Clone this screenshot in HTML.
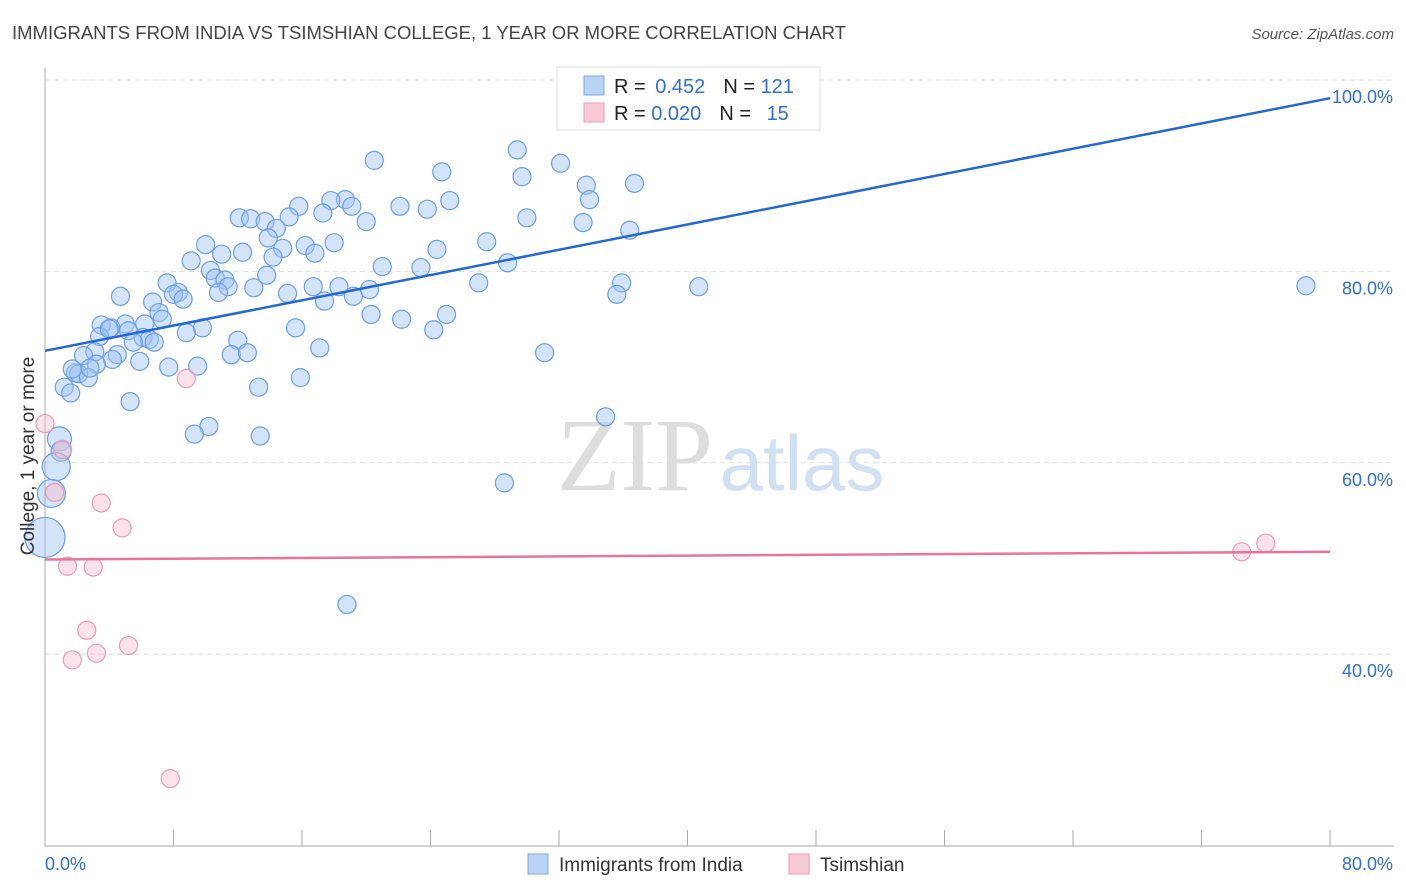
<!DOCTYPE html>
<html><head><meta charset="utf-8">
<style>
body{margin:0;background:#fff;font-family:"Liberation Sans",sans-serif;}
svg{display:block}
</style></head>
<body>
<svg id="chart" width="1406" height="892" xmlns="http://www.w3.org/2000/svg">
<text x="12" y="39" font-size="18.5" fill="#444" textLength="834" lengthAdjust="spacingAndGlyphs">IMMIGRANTS FROM INDIA VS TSIMSHIAN COLLEGE, 1 YEAR OR MORE CORRELATION CHART</text>
<text x="1394" y="39" font-size="15" fill="#555" font-style="italic" text-anchor="end">Source: ZipAtlas.com</text>
<g id="grid"></g>
<g>
<text x="635" y="490" font-size="104" fill="#ddd" font-family="Liberation Serif,serif" text-anchor="middle">ZIP</text>
<text x="802" y="490" font-size="78" fill="#cfe0f3" text-anchor="middle">atlas</text>
</g>
<g id="axes"></g>
<g id="points"></g>
<g id="trends"></g>
<text transform="translate(34,456) rotate(-90)" font-size="19" fill="#333" text-anchor="middle">College, 1 year or more</text>
<g>
<rect x="557" y="67" width="263" height="63" fill="#fff" stroke="#ddd"/>
<rect x="584" y="76" width="20" height="19" fill="#b9d3f5" stroke="#7aa9e6"/>
<rect x="584" y="103" width="20" height="19" fill="#f9c9d6" stroke="#ee9ab2"/>
<text x="614" y="93" font-size="20" fill="#222">R = <tspan fill="#2f6fd0" dx="4">0.452</tspan><tspan dx="18">N = </tspan><tspan fill="#2f6fd0">121</tspan></text>
<text x="614" y="120" font-size="20" fill="#222">R = <tspan fill="#2f6fd0">0.020</tspan><tspan dx="18">N = </tspan><tspan fill="#2f6fd0" dx="10">15</tspan></text>
</g>
<g>
<rect x="528" y="854" width="20" height="20" fill="#b9d3f5" stroke="#7aa9e6"/>
<text x="559" y="871" font-size="19" fill="#333">Immigrants from India</text>
<rect x="789" y="854" width="20" height="20" fill="#f9c9d6" stroke="#ee9ab2"/>
<text x="820" y="871" font-size="19" fill="#333">Tsimshian</text>
</g>
</svg>
<script>
const yTicks=[100,80,60,40];
const yTickLabels=["100.0%","80.0%","60.0%","40.0%"];
const xTicks=[0,8,16,24,32,40,48,56,64,72,80];
const indiaX=[20.5,29.4,32.1,24.7,29.7,33.7,36.7,33.9,25.2,18.7,17.8,19.1,22.1,23.8,15.8,17.3,15.2,12.1,12.8,13.7,14.4,20.0,30.0,33.5,36.4,13.9,16.2,14.8,16.8,18.0,27.5,24.4,10.0,12.3,11.0,9.1,14.2,28.8,21.0,23.4,10.3,13.8,10.6,11.2,11.4,10.8,7.6,8.3,8.0,8.6,13.0,15.1,16.7,18.3,20.2,19.2,17.4,27.0,35.9,35.6,40.7,78.5,4.7,6.7,7.1,7.3,20.3,22.2,25.0,24.2,15.6,9.8,8.8,6.2,5.0,3.5,4.1,3.4,5.2,6.1,6.5,6.8,12.0,5.5,17.1,11.6,12.6,4.5,3.1,2.4,5.9,7.7,9.5,4.2,3.2,1.9,2.1,2.7,15.9,1.2,1.6,13.3,31.1,5.3,34.9,10.2,9.3,13.4,0.9,1.0,0.7,0.4,0.0,28.6,18.8,1.7,2.8,4.0];
const indiaY=[91.6,92.7,91.3,90.4,89.9,89.0,89.2,87.5,87.4,87.5,87.4,86.8,86.8,86.5,86.8,86.1,85.7,85.6,85.5,85.2,84.5,85.2,85.6,85.1,84.3,83.5,82.7,82.4,81.9,83.0,83.1,82.3,82.8,82.0,81.8,81.1,81.5,80.9,80.5,80.4,80.1,79.6,79.3,79.1,78.4,77.8,78.8,77.8,77.6,77.1,78.3,77.7,78.4,78.4,78.1,77.4,76.9,78.8,78.8,77.6,78.4,78.5,77.4,76.8,75.7,75.0,75.5,75.0,75.5,73.9,74.1,74.1,73.6,74.5,74.5,74.4,74.1,73.2,73.8,73.1,72.9,72.6,72.8,72.6,72.0,71.3,71.5,71.3,71.6,71.2,70.6,70.0,70.1,70.8,70.3,69.4,69.3,68.9,68.9,67.9,67.3,67.9,71.5,66.4,64.8,63.8,63.0,62.8,62.5,61.2,59.6,56.8,52.2,57.9,45.2,69.8,69.9,74.0];
const indiaBig={108:12,109:10,110:14,111:14,112:20};
const tsimX=[0.0,8.8,1.1,0.6,3.5,4.8,1.4,3.0,2.6,1.7,3.2,5.2,7.8,74.5,76.0];
const tsimY=[64.1,68.8,61.4,56.9,55.8,53.2,49.2,49.1,42.5,39.4,40.1,40.9,27.0,50.7,51.6];
const indiaTrend=[71.7,98.1];
const tsimTrend=[49.9,50.7];
const trendX=[0,80];

const NS="http://www.w3.org/2000/svg";
const X0=45,X1=1330,YT=80,PX=9.57;
const sx=v=>X0+(v/80)*(X1-X0);
const sy=v=>YT+(100-v)*PX;
function mk(tag,attrs,parent){const e=document.createElementNS(NS,tag);for(const k in attrs)e.setAttribute(k,attrs[k]);document.getElementById(parent).appendChild(e);return e;}

yTicks.forEach((t,i)=>{
  const l=mk('line',{x1:X0,x2:1394,y1:sy(t),y2:sy(t),stroke:'#ddd','stroke-dasharray':'5,4'},'grid');
  
  
  const tx=mk('text',{x:1393,y:sy(t)+23,'font-size':18,fill:'#2f6fd0','text-anchor':'end'},'axes');
  tx.textContent=yTickLabels[i];
  
  
});
let ax=mk('line',{x1:X0,x2:X0,y1:68,y2:846,stroke:'#aaa'},'axes');


ax=mk('line',{x1:X0,x2:1394,y1:846,y2:846,stroke:'#aaa'},'axes');


xTicks.forEach(t=>{
  const l=mk('line',{x1:sx(t),x2:sx(t),y1:830,y2:846,stroke:'#aaa'},'axes');
  
  
});
let xl=mk('text',{x:45,y:870,'font-size':18,fill:'#2f6fd0'},'axes');xl.textContent='0.0%';


xl=mk('text',{x:1393,y:870,'font-size':18,fill:'#2f6fd0','text-anchor':'end'},'axes');xl.textContent='80.0%';



indiaX.forEach((v,i)=>{
  const c=mk('circle',{cx:sx(v),cy:sy(indiaY[i]),r:indiaBig[i]||9,fill:'rgba(160,195,240,0.45)',stroke:'#6a9fe2','stroke-width':1.2},'points');
  
  
});
tsimX.forEach((v,i)=>{
  const c=mk('circle',{cx:sx(v),cy:sy(tsimY[i]),r:9,fill:'rgba(248,190,208,0.45)',stroke:'#ec9ab3','stroke-width':1.2},'points');
  
  
});
let tl=mk('line',{x1:sx(trendX[0]),y1:sy(indiaTrend[0]),x2:sx(trendX[1]),y2:sy(indiaTrend[1]),stroke:'#2467d1','stroke-width':2.5},'trends');


tl=mk('line',{x1:sx(trendX[0]),y1:sy(tsimTrend[0]),x2:sx(trendX[1]),y2:sy(tsimTrend[1]),stroke:'#e8749a','stroke-width':2.5},'trends');


</script>
</body></html>
